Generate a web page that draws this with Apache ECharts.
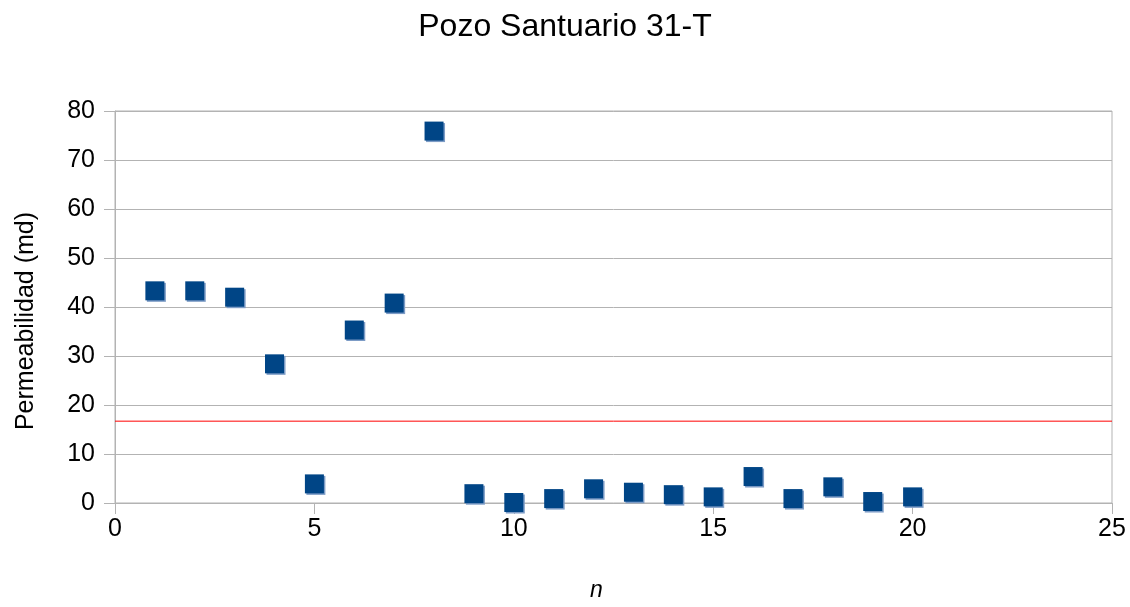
<!DOCTYPE html>
<html>
<head>
<meta charset="utf-8">
<title>Pozo Santuario 31-T</title>
<script src="https://cdn.jsdelivr.net/npm/echarts@6/dist/echarts.min.js"></script>
<style>
  html, body { margin: 0; padding: 0; background: #fff; width: 100%; height: 100%; overflow: hidden; }
  #chart { width: 100vw; height: 100vh; }
</style>
</head>
<body>
<div id="chart"></div>
<script>
// muestras n = 1..20
const nValues = [1, 2, 3, 4, 5, 6, 7, 8, 9, 10, 11, 12, 13, 14, 15, 16, 17, 18, 19, 20];
const permeabilidad = [43.3, 43.3, 42.0, 28.4, 3.9, 35.3, 40.8, 75.9, 1.9, 0.1, 0.9, 2.9, 2.2, 1.7, 1.25, 5.4, 0.9, 3.3, 0.3, 1.25];
// linea de referencia (corte), de x = 0 a x = 25
const corte = 16.7;
const corteX = [0, 25];

const points = nValues.map((n, i) => [n, permeabilidad[i]]);
const cortePoints = corteX.map((x) => [x, corte]);

const chart = echarts.init(document.getElementById("chart"));

const font = "Liberation Sans, Arial, sans-serif";
const gray = "#b3b3b3";

const option = {
  animation: false,
  textStyle: { fontFamily: font },
  title: {
    text: "Pozo Santuario 31-T",
    left: "center",
    top: 6,
    textStyle: { fontFamily: font, fontSize: 32, fontWeight: "normal", color: "#000" },
  },
  grid: {
    left: 115,
    right: 18,
    top: 111,
    bottom: 100,
    show: true,
    borderColor: gray,
    borderWidth: 1,
  },
  xAxis: {
    type: "value",
    min: 0,
    max: 25,
    interval: 5,
    name: "n",
    nameLocation: "middle",
    nameGap: 76,
    nameTextStyle: {
      fontFamily: font,
      fontSize: 23,
      fontStyle: "italic",
      color: "#000",
      padding: [0, 34, 0, 0],
    },
    axisLine: { lineStyle: { color: gray, width: 1 } },
    axisTick: { show: true, length: 11, lineStyle: { color: gray } },
    axisLabel: { fontSize: 25, color: "#000", margin: 14 },
    splitLine: { show: false },
  },
  yAxis: {
    type: "value",
    min: 0,
    max: 80,
    interval: 10,
    name: "Permeabilidad (md)",
    nameLocation: "middle",
    nameGap: 76,
    nameTextStyle: {
      fontFamily: font,
      fontSize: 25,
      color: "#000",
      padding: [0, 28, 0, 0],
    },
    axisLine: { show: true, lineStyle: { color: gray, width: 1 } },
    axisTick: { show: true, length: 11, lineStyle: { color: gray } },
    axisLabel: { fontSize: 25, color: "#000", margin: 20 },
    splitLine: { lineStyle: { color: gray, width: 1 } },
  },
  series: [
    {
      type: "line",
      data: cortePoints,
      showSymbol: false,
      silent: true,
      z: 2,
      lineStyle: { color: "#ff0000", width: 1 },
      itemStyle: { color: "#ff0000" },
    },
    {
      type: "scatter",
      data: points,
      symbol: "rect",
      symbolSize: 19,
      z: 3,
      itemStyle: {
        color: "#004586",
        opacity: 1,
        shadowColor: "#7d9cc6",
        shadowBlur: 0,
        shadowOffsetX: 1.5,
        shadowOffsetY: 1.5,
      },
    },
  ],
};

chart.setOption(option);
window.addEventListener("resize", () => chart.resize());
</script>
</body>
</html>
